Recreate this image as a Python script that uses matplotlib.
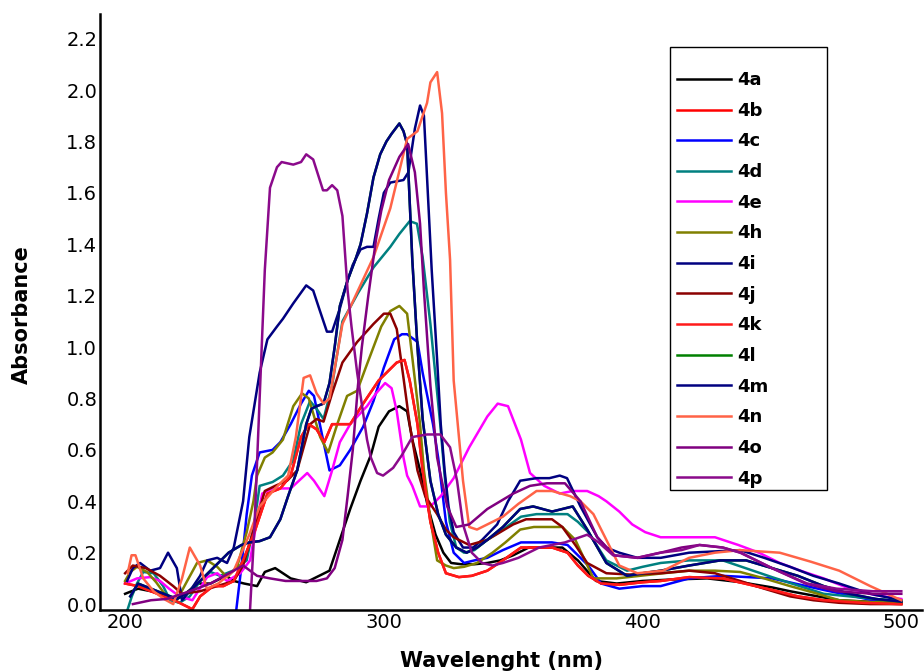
import numpy as np
import matplotlib
matplotlib.use('Agg')
import matplotlib.pyplot as plt
from matplotlib.patches import Rectangle


#---------------------------------------------------------------
#   UV-vis absorbance spectra, (wavelength nm, absorbance) pairs
#---------------------------------------------------------------

s4a = [(200, 0.04), (205, 0.06), (210, 0.05), (214, 0.04), (219, 0.015), (222, 0.03), (228, 0.08),
       (233, 0.08), (239, 0.11), (242, 0.09), (246, 0.08), (251, 0.07), (254, 0.125), (258, 0.14),
       (264, 0.10), (270, 0.085), (275, 0.11), (279, 0.13), (283, 0.25), (287, 0.37), (291, 0.48),
       (295, 0.58), (298, 0.69), (302, 0.75), (306, 0.77), (309, 0.75), (311, 0.64), (314, 0.52),
       (317, 0.38), (320, 0.27), (323, 0.20), (326, 0.16), (330, 0.155), (335, 0.155), (340, 0.16),
       (345, 0.17), (350, 0.19), (356, 0.22), (362, 0.22), (369, 0.22), (375, 0.17), (382, 0.09),
       (390, 0.08), (400, 0.09), (410, 0.095), (425, 0.10), (438, 0.085), (450, 0.065), (457, 0.05),
       (465, 0.035), (476, 0.015), (490, 0.008), (500, 0.005)]

s4b = [(200, 0.08), (205, 0.07), (210, 0.05), (215, 0.03), (220, 0.01), (226, -0.02), (229, 0.03),
       (234, 0.07), (238, 0.07), (242, 0.09), (246, 0.18), (250, 0.28), (255, 0.43), (260, 0.45),
       (264, 0.50), (268, 0.65), (271, 0.70), (274, 0.68), (277, 0.63), (280, 0.70), (284, 0.70),
       (287, 0.70), (292, 0.78), (298, 0.87), (302, 0.91), (305, 0.94), (308, 0.95), (310, 0.87),
       (313, 0.70), (315, 0.52), (318, 0.32), (321, 0.20), (324, 0.12), (329, 0.105), (334, 0.11),
       (340, 0.13), (346, 0.17), (353, 0.22), (360, 0.22), (365, 0.22), (371, 0.20), (375, 0.15),
       (379, 0.11), (384, 0.08), (391, 0.075), (400, 0.085), (407, 0.09), (418, 0.105), (431, 0.10),
       (450, 0.055), (460, 0.03), (470, 0.015), (485, 0.005), (500, 0.0)]

s4c = [(243, -0.02), (245, 0.15), (247, 0.35), (249, 0.50), (252, 0.59), (257, 0.60), (260, 0.63),
       (264, 0.70), (268, 0.78), (271, 0.83), (273, 0.81), (276.5, 0.64), (279, 0.52), (283, 0.54),
       (287, 0.60), (292, 0.69), (296, 0.79), (300, 0.92), (304, 1.03), (307, 1.05), (309, 1.05),
       (313, 1.02), (315, 0.90), (317, 0.80), (319, 0.70), (321, 0.57), (324, 0.32), (327, 0.20),
       (331, 0.16), (335, 0.17), (340, 0.18), (346, 0.21), (353, 0.24), (360, 0.24), (365, 0.24),
       (371, 0.23), (375, 0.19), (379, 0.15), (384, 0.08), (391, 0.06), (400, 0.07), (407, 0.07),
       (418, 0.10), (431, 0.11), (450, 0.10), (470, 0.055), (489, 0.015), (500, 0.01)]

s4d = [(201, -0.02), (202.6, 0.03), (204.6, 0.08), (207, 0.125), (211, 0.12), (214.7, 0.07),
       (217.4, 0.015), (221, 0.005), (225, 0.03), (229, 0.09), (233, 0.125), (236.7, 0.11),
       (241.7, 0.13), (247, 0.17), (250, 0.32), (252, 0.46), (257, 0.475), (261, 0.50), (265, 0.56),
       (268, 0.70), (271.5, 0.79), (274, 0.76), (276.7, 0.72), (280, 0.85), (284, 1.10), (290, 1.21),
       (296, 1.31), (302.5, 1.39), (306, 1.44), (310, 1.49), (312.8, 1.48), (315, 1.35), (318, 1.09),
       (321.8, 0.70), (323.5, 0.50), (325.5, 0.32), (328, 0.22), (331, 0.20), (335, 0.21), (340, 0.25),
       (346, 0.29), (353, 0.34), (359, 0.35), (365, 0.35), (371, 0.35), (375, 0.32), (379, 0.28),
       (386, 0.17), (394, 0.13), (400, 0.145), (407, 0.16), (418, 0.17), (431, 0.17), (450, 0.105),
       (470, 0.04), (500, 0.01)]

s4e = [(200, 0.08), (204.6, 0.10), (209.7, 0.105), (213.5, 0.09), (217, 0.06), (221, 0.03),
       (226, 0.015), (231.7, 0.105), (235.6, 0.12), (239.4, 0.09), (244.5, 0.12), (248.3, 0.17),
       (250.5, 0.30), (253, 0.43), (257, 0.45), (264, 0.45), (270.4, 0.51), (273, 0.48), (277, 0.42),
       (280, 0.52), (283, 0.63), (287, 0.70), (293.5, 0.77), (297, 0.82), (300.5, 0.86), (303, 0.84),
       (305, 0.75), (307.6, 0.57), (309, 0.50), (311, 0.46), (314, 0.38), (318, 0.38), (322, 0.42),
       (327, 0.49), (333, 0.61), (340, 0.73), (344, 0.78), (348, 0.77), (353, 0.64), (356.5, 0.51),
       (362, 0.46), (368, 0.43), (373, 0.44), (378.6, 0.44), (383, 0.42), (386, 0.40), (391, 0.36),
       (396, 0.31), (401, 0.28), (407, 0.26), (415, 0.26), (428, 0.26), (437, 0.23), (445, 0.20),
       (453, 0.16), (461, 0.13), (470, 0.10), (480, 0.06), (490, 0.035), (500, 0.02)]

s4h = [(200, 0.09), (202, 0.125), (204.6, 0.145), (208.5, 0.125), (212, 0.085), (216, 0.03),
       (220, 0.015), (224, 0.09), (227.8, 0.16), (231.7, 0.17), (235.6, 0.145), (239.4, 0.105),
       (243.3, 0.145), (247, 0.28), (249.6, 0.40), (251, 0.50), (254, 0.57), (257, 0.59), (261, 0.64),
       (265, 0.77), (268.4, 0.82), (271, 0.80), (275.4, 0.65), (278.5, 0.59), (282, 0.70),
       (285.8, 0.81), (289.7, 0.83), (293, 0.92), (296, 1.00), (299, 1.08), (302.5, 1.14), (306, 1.16),
       (309, 1.13), (311, 0.96), (314, 0.70), (315.5, 0.52), (318, 0.33), (320.6, 0.17), (324, 0.15),
       (327, 0.14), (331, 0.145), (336, 0.16), (342, 0.20), (347, 0.24), (352.7, 0.29), (358, 0.30),
       (365, 0.30), (369, 0.30), (374, 0.25), (381, 0.10), (390, 0.10), (399, 0.11), (408, 0.12),
       (418, 0.13), (428, 0.13), (437.7, 0.125), (447, 0.10), (457, 0.07), (466, 0.045), (476, 0.015),
       (488, 0.008), (500, 0.005)]

s4i = [(200.8, 0.09), (203, 0.14), (205.8, 0.16), (209.7, 0.13), (213.5, 0.14), (216.6, 0.20),
       (220, 0.14), (222, 0.015), (225, 0.05), (229, 0.11), (231.7, 0.17), (235.6, 0.18),
       (239.4, 0.16), (242, 0.22), (245.6, 0.40), (248, 0.65), (252, 0.90), (255, 1.03),
       (258.7, 1.08), (261, 1.11), (265, 1.17), (270, 1.24), (272.7, 1.22), (275, 1.15), (278, 1.06),
       (280, 1.06), (283, 1.15), (286, 1.26), (288, 1.32), (291, 1.38), (293.5, 1.39), (296, 1.39),
       (298, 1.50), (300, 1.60), (302.5, 1.64), (307.6, 1.65), (309.5, 1.68), (312, 1.85), (314, 1.94),
       (315.5, 1.90), (317, 1.60), (318.5, 1.30), (320.6, 0.95), (322, 0.70), (323.5, 0.52),
       (325, 0.38), (327, 0.28), (330.6, 0.22), (334.5, 0.22), (338, 0.25), (343.8, 0.31),
       (348, 0.40), (352.7, 0.48), (359, 0.49), (364, 0.49), (368, 0.50), (370.8, 0.49), (376, 0.38),
       (382.5, 0.26), (386, 0.22), (391, 0.20), (398, 0.18), (407, 0.18), (418, 0.20), (428, 0.205),
       (437.7, 0.21), (447, 0.18), (457, 0.145), (466, 0.11), (476, 0.08), (488, 0.04), (500, 0.015)]

s4j = [(200, 0.12), (203, 0.15), (208, 0.14), (213.5, 0.11), (218.6, 0.07), (222, 0.04), (229, 0.05),
       (235.6, 0.07), (242, 0.09), (245.6, 0.15), (250, 0.30), (254, 0.44), (258, 0.46),
       (262.6, 0.48), (266.5, 0.52), (271.5, 0.70), (274, 0.72), (276.7, 0.71), (280, 0.82),
       (284, 0.94), (289.7, 1.02), (296, 1.09), (300, 1.13), (302.5, 1.13), (305, 1.07), (307.6, 0.88),
       (310, 0.70), (313, 0.52), (316, 0.42), (320.6, 0.35), (324, 0.29), (327, 0.26), (333, 0.23),
       (340, 0.25), (345, 0.28), (350, 0.31), (355, 0.33), (360, 0.33), (365, 0.33), (369, 0.30),
       (374, 0.23), (378.6, 0.16), (386, 0.12), (395, 0.115), (407, 0.12), (418, 0.13), (428, 0.12),
       (437.7, 0.09), (447, 0.06), (457, 0.03), (466, 0.015), (476, 0.005), (488, 0.0), (500, 0.0)]

s4k = s4b   # drawn on top of 4b, not separable in the picture

s4m = [(202, 0.03), (205, 0.08), (210, 0.06), (215, 0.04), (220, 0.02), (225, 0.05), (230, 0.10),
       (235, 0.15), (240, 0.20), (245, 0.23), (248, 0.24), (252, 0.245), (256, 0.26), (260, 0.33),
       (263, 0.42), (266.5, 0.52), (270, 0.70), (272, 0.76), (274, 0.77), (276.7, 0.78), (279, 0.86),
       (281, 1.00), (283, 1.16), (286, 1.26), (289, 1.34), (291, 1.40), (293.5, 1.52), (296, 1.66),
       (298.6, 1.75), (301, 1.80), (303, 1.83), (306, 1.87), (307.6, 1.84), (309, 1.79), (311, 1.34),
       (313, 1.00), (315, 0.72), (318, 0.48), (321, 0.35), (324, 0.27), (328, 0.22), (332, 0.20),
       (336, 0.22), (340, 0.25), (346, 0.30), (352.7, 0.37), (357.7, 0.38), (365, 0.36), (373, 0.38),
       (378.6, 0.29), (386, 0.16), (394, 0.11), (400, 0.12), (407, 0.13), (418, 0.15), (430, 0.17),
       (440, 0.17), (450, 0.14), (460, 0.11), (470, 0.07), (480, 0.04), (490, 0.02), (500, 0.01)]

s4l = s4m   # hidden under 4m

s4n = [(201, 0.12), (202.5, 0.19), (204, 0.19), (207, 0.10), (211, 0.05), (215, 0.02), (218.6, 0.0),
       (222, 0.10), (225, 0.22), (229, 0.15), (231.6, 0.06), (236, 0.08), (242, 0.13), (248, 0.27),
       (252, 0.38), (258, 0.45), (263, 0.50), (266, 0.65), (269, 0.88), (271.5, 0.89), (274, 0.82),
       (276.7, 0.78), (279, 0.80), (284, 1.09), (290, 1.22), (296, 1.35), (302.5, 1.54), (309, 1.81),
       (313, 1.84), (316.7, 1.95), (318, 2.03), (320.6, 2.07), (322.5, 1.91), (324, 1.60),
       (325.6, 1.34), (327, 0.87), (330.6, 0.48), (333, 0.30), (336, 0.29), (340, 0.31), (346, 0.34),
       (352, 0.39), (359, 0.44), (365, 0.44), (372, 0.42), (376, 0.40), (381, 0.35), (386, 0.25),
       (391, 0.15), (398, 0.12), (408, 0.13), (418, 0.18), (428, 0.20), (437.7, 0.21), (453, 0.20),
       (465, 0.165), (476, 0.13), (488, 0.07), (500, 0.015)]

s4o = [(203, 0.0), (210, 0.015), (216, 0.02), (225, 0.05), (233, 0.08), (242, 0.13), (245.6, 0.15),
       (251, 0.11), (256, 0.10), (262, 0.09), (268, 0.09), (274, 0.09), (278, 0.10), (281, 0.14),
       (284, 0.25), (286, 0.42), (288, 0.60), (290, 0.85), (291.5, 1.00), (294, 1.20), (297, 1.42),
       (299, 1.53), (302, 1.65), (306, 1.74), (309.4, 1.79), (312, 1.68), (314, 1.48), (315.5, 1.22),
       (318, 0.85), (320.6, 0.57), (322, 0.50), (324.5, 0.38), (328, 0.30), (333, 0.31), (340, 0.37),
       (345, 0.40), (350, 0.43), (356.5, 0.46), (363, 0.47), (370, 0.47), (376, 0.40), (382.5, 0.26),
       (389, 0.19), (398, 0.18), (407, 0.20), (415, 0.22), (422, 0.23), (431, 0.22), (438, 0.20),
       (450, 0.14), (463, 0.08), (475, 0.05), (489, 0.04), (500, 0.04)]

s4p = [(248.3, -0.02), (250, 0.30), (252, 0.80), (254, 1.30), (256, 1.62), (258.7, 1.70),
       (260.5, 1.72), (265, 1.71), (268, 1.72), (270, 1.75), (272.7, 1.73), (276.5, 1.61), (278, 1.61),
       (280, 1.63), (282, 1.61), (284, 1.51), (286, 1.22), (287.5, 1.08), (289.7, 0.90), (291.6, 0.77),
       (293.5, 0.64), (295, 0.57), (297.4, 0.51), (299.7, 0.50), (303.6, 0.53), (307, 0.58),
       (311, 0.65), (316.7, 0.66), (321.8, 0.66), (325.6, 0.61), (328.3, 0.48), (330.6, 0.31),
       (334, 0.20), (338, 0.16), (342, 0.15), (346, 0.16), (352, 0.18), (360, 0.22), (370, 0.24),
       (378.6, 0.27), (383, 0.24), (388.6, 0.19), (397.9, 0.18), (406.8, 0.20), (415, 0.21),
       (422, 0.23), (431, 0.22), (437.7, 0.20), (450, 0.14), (463.6, 0.08), (475, 0.06), (489, 0.05),
       (500, 0.05)]

labels = ['4a', '4b', '4c', '4d', '4e', '4h', '4i', '4j', '4k', '4l', '4m', '4n', '4o', '4p']
colors = ['#000000', '#ff0000', '#0000ff', '#008080', '#ff00ff', '#808000', '#000080',
          '#8b0000', '#ff1a1a', '#008000', '#000080', '#ff6347', '#800080', '#8b0a8b']
spectra = [s4a, s4b, s4c, s4d, s4e, s4h, s4i, s4j, s4k, s4l, s4m, s4n, s4o, s4p]


fig = plt.figure(figsize=(9.24, 6.72), dpi=100)
ax = fig.add_axes([100 / 924, 62 / 672, 822 / 924, 596 / 672])

for lab, col, pts in zip(labels, colors, spectra):
    wl, ab = zip(*pts)
    ax.plot(wl, ab, color=col, lw=1.8, label=lab, solid_joinstyle='round')

ax.set_xlim(190.3, 508)
ax.set_ylim(-0.023, 2.296)
ax.set_xticks([200, 300, 400, 500])
ax.set_yticks(np.arange(0, 2.21, 0.2))
ax.set_yticklabels(['%.1f' % v for v in np.arange(0, 2.21, 0.2)])
ax.tick_params(length=0, labelsize=14, pad=2)

for side in ['top', 'right']:
    ax.spines[side].set_visible(False)
for side in ['left', 'bottom']:
    ax.spines[side].set_linewidth(1.8)

ax.set_xlabel('Wavelenght (nm)', fontsize=15, fontweight='bold')
ax.xaxis.set_label_coords(0.488, -0.068)
ax.set_ylabel('Absorbance', fontsize=15, fontweight='bold')
ax.yaxis.set_label_coords(-0.083, 0.495)

# legend box drawn by hand so its size matches the original
ax.add_patch(Rectangle((0.6934, 0.2013), 0.191, 0.7433, transform=ax.transAxes,
                       facecolor='white', edgecolor='black', lw=1.0, zorder=4))
ax.legend(loc='upper left', bbox_to_anchor=(0.702, 0.904), frameon=False,
          prop=dict(weight='bold', size=13), handlelength=3.0, handletextpad=0.35,
          labelspacing=0.70, borderpad=0, borderaxespad=0)

fig.savefig('out.png', dpi=100)
